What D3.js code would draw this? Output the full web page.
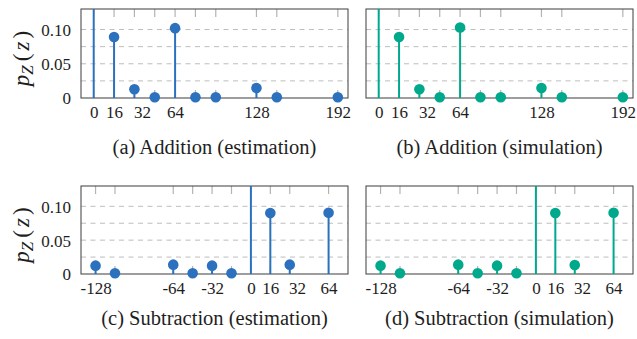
<!DOCTYPE html>
<html>
<head>
<meta charset="utf-8">
<script src="https://cdnjs.cloudflare.com/ajax/libs/d3/7.8.5/d3.min.js"></script>
<style>
  html, body { margin: 0; padding: 0; background: #fff; }
  svg { display: block; }
  svg text { font-family: "Liberation Serif", "Times New Roman", serif; }
</style>
</head>
<body>
<div id="chart"></div>
<script>
// ---------------- data ----------------
var addX = [0, 16, 32, 48, 64, 80, 96, 128, 144, 192];
var addEstimation = [0.78, 0.089, 0.0127, 0.001, 0.102, 0.001, 0.001, 0.0147, 0.001, 0.001];
var addSimulation = [0.78, 0.089, 0.0127, 0.001, 0.103, 0.001, 0.001, 0.0147, 0.001, 0.001];

var subX = [-128, -112, -64, -48, -32, -16, 0, 16, 32, 64];
var subEstimation = [0.0123, 0.001, 0.0138, 0.001, 0.0123, 0.001, 0.77, 0.090, 0.0138, 0.0905];
var subSimulation = [0.0123, 0.001, 0.0138, 0.001, 0.0123, 0.001, 0.77, 0.090, 0.0133, 0.0905];

// label "32" sits a little right of its tick in the original
var addTickValues = [0, 16, 38, 64, 128, 192];
var addTickLabels = ["0", "16", "32", "64", "128", "192"];
var subTickValues = [-128, -64, -32, 0, 16, 38, 64];
var subTickLabels = ["-128", "-64", "-32", "0", "16", "32", "64"];

var yTickValues = [0, 0.05, 0.1];
var yTickLabels = ["0", "0.05", "0.10"];
var yGridValues = [0.025, 0.05, 0.075, 0.1];

var captions = [
  "(a) Addition (estimation)",
  "(b) Addition (simulation)",
  "(c) Subtraction (estimation)",
  "(d) Subtraction (simulation)"
];

// ---------------- layout ----------------
var attrs = {
  width: 637,
  height: 339,
  font: "Liberation Serif, Times New Roman, serif",
  blue: "#2c71bd",
  green: "#00a98c",
  border: "#3c3c3c",
  grid: "#bdbdbd",
  tickColor: "#b3b3b3",
  textFill: "#1e1e1e"
};

var svg = d3.select("#chart").append("svg")
  .attr("width", attrs.width)
  .attr("height", attrs.height)
  .style("font-family", attrs.font);

var panels = [
  { left: 81, right: 348, top: 9, bottom: 98, domain: [-10, 200], xs: addX, ys: addEstimation, color: attrs.blue, ticks: addTickValues, labels: addTickLabels, caption: captions[0], yLabel: true },
  { left: 366, right: 633, top: 9, bottom: 98, domain: [-10, 200], xs: addX, ys: addSimulation, color: attrs.green, ticks: addTickValues, labels: addTickLabels, caption: captions[1], yLabel: false },
  { left: 81, right: 348, top: 186, bottom: 274, domain: [-140, 80], xs: subX, ys: subEstimation, color: attrs.blue, ticks: subTickValues, labels: subTickLabels, caption: captions[2], yLabel: true },
  { left: 366, right: 633, top: 186, bottom: 274, domain: [-140, 80], xs: subX, ys: subSimulation, color: attrs.green, ticks: subTickValues, labels: subTickLabels, caption: captions[3], yLabel: false }
];

panels.forEach(function (p, i) {
  var w = p.right - p.left, h = p.bottom - p.top;
  var x = d3.scaleLinear().domain(p.domain).range([0, w]);
  var y = d3.scaleLinear().domain([0, 0.13]).range([h, 0]);

  var g = svg.append("g").attr("transform", "translate(" + p.left + "," + p.top + ")");

  // clip: cut at the top border only, dots may hang below the axis
  var clipId = "clip" + i;
  svg.append("clipPath").attr("id", clipId)
    .append("rect").attr("x", -10).attr("y", 0).attr("width", w + 20).attr("height", h + 20);

  // horizontal dashed grid
  g.selectAll(".grid").data(yGridValues).enter().append("line")
    .attr("x1", 0).attr("x2", w)
    .attr("y1", d => y(d)).attr("y2", d => y(d))
    .attr("stroke", attrs.grid).attr("stroke-width", 1)
    .attr("stroke-dasharray", "5,4.5");

  // inner tick marks at every data position, top and bottom
  g.selectAll(".ttick").data(p.xs).enter().append("line")
    .attr("x1", d => x(d)).attr("x2", d => x(d))
    .attr("y1", 0).attr("y2", 8)
    .attr("stroke", attrs.tickColor).attr("stroke-width", 1.2);
  g.selectAll(".btick").data(p.xs).enter().append("line")
    .attr("x1", d => x(d)).attr("x2", d => x(d))
    .attr("y1", h).attr("y2", h - 8)
    .attr("stroke", attrs.tickColor).attr("stroke-width", 1.2);

  // frame
  g.append("rect").attr("width", w).attr("height", h)
    .attr("fill", "none").attr("stroke", attrs.border).attr("stroke-width", 1);

  var marks = g.append("g").attr("clip-path", "url(#" + clipId + ")");
  var pts = p.xs.map((v, k) => ({ x: v, y: p.ys[k] }));

  marks.selectAll(".stem").data(pts).enter().append("line")
    .attr("x1", d => x(d.x)).attr("x2", d => x(d.x))
    .attr("y1", y(0)).attr("y2", d => y(d.y))
    .attr("stroke", p.color).attr("stroke-width", 2);

  marks.selectAll(".dot").data(pts.filter(d => d.y <= 0.13)).enter().append("circle")
    .attr("cx", d => x(d.x)).attr("cy", d => y(d.y))
    .attr("r", 5.3)
    .attr("fill", p.color);

  // x axis labels
  var xAxis = d3.axisBottom(x).tickValues(p.ticks).tickSize(0)
    .tickFormat((d, k) => p.labels[k]);
  var xg = g.append("g").attr("transform", "translate(0," + h + ")").call(xAxis);
  xg.attr("font-family", null).attr("font-size", null);
  xg.select(".domain").remove();
  xg.selectAll("text").attr("dy", null).attr("y", 20)
    .style("font-family", attrs.font).style("font-size", "17px").attr("fill", attrs.textFill);

  // y axis labels
  if (p.yLabel) {
    var yAxis = d3.axisLeft(y).tickValues(yTickValues).tickSize(0)
      .tickFormat((d, k) => yTickLabels[k]);
    var yg = g.append("g").call(yAxis);
    yg.attr("font-family", null).attr("font-size", null);
    yg.select(".domain").remove();
    yg.selectAll("text").attr("x", -10).attr("dy", "0.35em")
      .style("font-family", attrs.font).style("font-size", "17px").attr("fill", attrs.textFill);

    var lab = svg.append("text")
      .attr("transform", "translate(" + 29 + "," + (p.top + h / 2 + 5) + ") rotate(-90)")
      .attr("text-anchor", "middle")
      .style("font-size", "23px")
      .attr("fill", attrs.textFill);
    lab.append("tspan").style("font-style", "italic").text("p");
    lab.append("tspan").style("font-style", "italic").style("font-size", "17px").attr("dy", 4).text("Z");
    lab.append("tspan").attr("dy", -4).attr("dx", 4).text("(");
    lab.append("tspan").style("font-style", "italic").attr("dx", 3).text("z");
    lab.append("tspan").attr("dx", 3).text(")");
  }

  // caption
  svg.append("text")
    .attr("x", p.left + w / 2)
    .attr("y", p.bottom + 56 - (i > 1 ? 5 : 0))
    .attr("text-anchor", "middle")
    .style("font-size", "20.5px")
    .attr("fill", attrs.textFill)
    .text(p.caption);
});
</script>
</body>
</html>
